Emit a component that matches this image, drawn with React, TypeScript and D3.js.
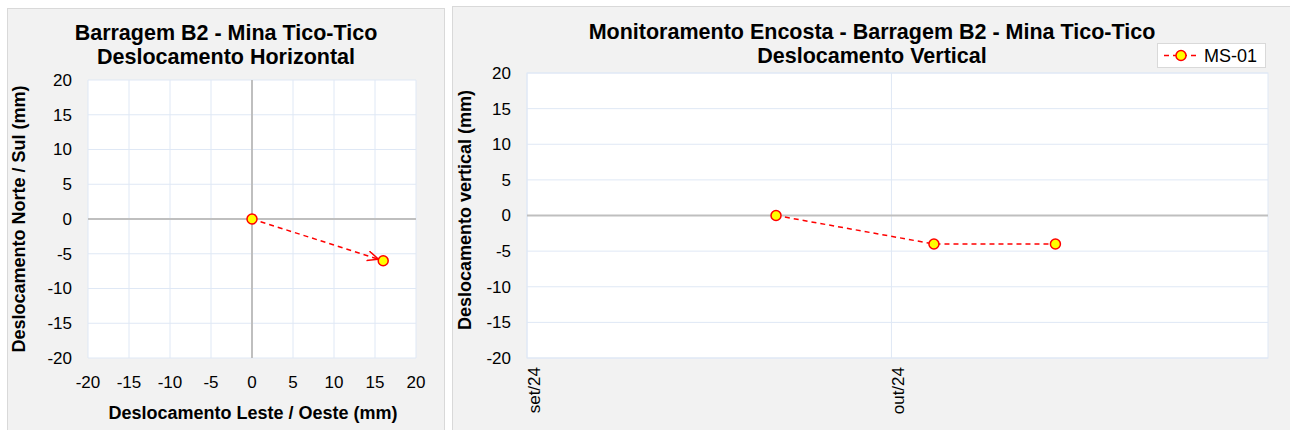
import React from 'react';
import * as d3 from 'd3';

// horizontal displacement (mm)
const eastWest = [0, 16];
const northSouth = [0, -6];

// vertical displacement, MS-01
const readDates = ['2024-09-21 12:00', '2024-10-04 12:00', '2024-10-14 12:00'];
const verticalMs01 = [0, -4, -4];

const axisTicks = [-20, -15, -10, -5, 0, 5, 10, 15, 20];
const monthTicks = ['2024-09-01 00:00', '2024-10-01 00:00'];
const monthLabels = ['set/24', 'out/24'];

const FONT = 'Liberation Sans, Arial, sans-serif';
const GRID = '#dfe8f5';
const ZERO = '#bfbfbf';
const RED = '#ff0000';

const parse = d3.timeParse('%Y-%m-%d %H:%M');

const Marker = ({ x, y }: { x: number; y: number }) => (
  <circle cx={x} cy={y} r={5} fill="#ffff00" stroke={RED} strokeWidth={1.5} />
);

const HorizontalChart = () => {
  const x = d3.scaleLinear().domain([-20, 20]).range([88, 416]);
  const y = d3.scaleLinear().domain([-20, 20]).range([358, 80]);
  const pts = eastWest.map((v, i) => [v, northSouth[i]] as [number, number]);
  const ln = d3.line<[number, number]>().x((d) => x(d[0])).y((d) => y(d[1]));

  return (
    <g>
      <rect x={7.5} y={8.5} width={437} height={430} fill="#f2f2f2" stroke="#d9d9d9" />
      <text x={226} y={40} textAnchor="middle" fontSize={21.5} fontWeight="bold">Barragem B2 - Mina Tico-Tico</text>
      <text x={226} y={64} textAnchor="middle" fontSize={21.5} fontWeight="bold">Deslocamento Horizontal</text>
      <rect x={88} y={80} width={328} height={278} fill="#fff" />
      {axisTicks.map((t) => (
        <g key={'g' + t}>
          <line x1={x(t)} x2={x(t)} y1={80} y2={358} stroke={GRID} />
          <line x1={88} x2={416} y1={y(t)} y2={y(t)} stroke={GRID} />
        </g>
      ))}
      <line x1={x(0)} x2={x(0)} y1={80} y2={358} stroke={ZERO} strokeWidth={2} />
      <line x1={88} x2={416} y1={y(0)} y2={y(0)} stroke={ZERO} strokeWidth={2} />
      {axisTicks.map((t) => (
        <text key={'y' + t} x={72} y={y(t)} dy="0.35em" textAnchor="end" fontSize={17}>{t}</text>
      ))}
      {axisTicks.map((t) => (
        <text key={'x' + t} x={x(t)} y={388} textAnchor="middle" fontSize={17}>{t}</text>
      ))}
      <text x={253} y={419} textAnchor="middle" fontSize={18} fontWeight="bold">Deslocamento Leste / Oeste (mm)</text>
      <text transform={`translate(25,${219}) rotate(-90)`} textAnchor="middle" fontSize={18} fontWeight="bold">Deslocamento Norte / Sul (mm)</text>
      <path d={ln(pts) || ''} fill="none" stroke={RED} strokeWidth={1.5} strokeDasharray="5,4" markerEnd="url(#arrow)" />
      {pts.map((p, i) => <Marker key={i} x={x(p[0])} y={y(p[1])} />)}
    </g>
  );
};

const VerticalChart = () => {
  const x = d3.scaleTime().domain([parse('2024-09-01 00:00')!, parse('2024-11-01 00:00')!]).range([527, 1268]);
  const y = d3.scaleLinear().domain([-20, 20]).range([358, 73]);
  const pts = readDates.map((d, i) => [parse(d)!, verticalMs01[i]] as [Date, number]);
  const ln = d3.line<[Date, number]>().x((d) => x(d[0])).y((d) => y(d[1]));

  return (
    <g>
      <rect x={452.5} y={6.5} width={850} height={430} fill="#f2f2f2" stroke="#d9d9d9" />
      <text x={872} y={39} textAnchor="middle" fontSize={21.5} fontWeight="bold">Monitoramento Encosta - Barragem B2 - Mina Tico-Tico</text>
      <text x={872} y={63} textAnchor="middle" fontSize={21.5} fontWeight="bold">Deslocamento Vertical</text>
      <rect x={527} y={73} width={741} height={285} fill="#fff" stroke={GRID} />
      {axisTicks.map((t) => (
        <line key={'g' + t} x1={527} x2={1268} y1={y(t)} y2={y(t)} stroke={GRID} />
      ))}
      {monthTicks.map((m) => (
        <line key={'v' + m} x1={x(parse(m)!)} x2={x(parse(m)!)} y1={73} y2={358} stroke={GRID} />
      ))}
      <line x1={527} x2={1268} y1={y(0)} y2={y(0)} stroke={ZERO} strokeWidth={2} />
      {axisTicks.map((t) => (
        <text key={'y' + t} x={511} y={y(t)} dy="0.35em" textAnchor="end" fontSize={17}>{t}</text>
      ))}
      {monthTicks.map((m, i) => (
        <text key={'x' + m} transform={`translate(${x(parse(m)!) + 13},367) rotate(-90)`} textAnchor="end" fontSize={17}>{monthLabels[i]}</text>
      ))}
      <text transform={`translate(471,210) rotate(-90)`} textAnchor="middle" fontSize={18} fontWeight="bold">Deslocamento vertical (mm)</text>
      <path d={ln(pts) || ''} fill="none" stroke={RED} strokeWidth={1.5} strokeDasharray="5,4" />
      {pts.map((p, i) => <Marker key={i} x={x(p[0])} y={y(p[1])} />)}
      <g>
        <rect x={1157.5} y={43.5} width={108} height={24} fill="#fff" stroke="#d9d9d9" />
        <line x1={1164} x2={1198} y1={55.5} y2={55.5} stroke={RED} strokeWidth={1.5} strokeDasharray="5,4" />
        <Marker x={1181} y={55.5} />
        <text x={1204} y={55.5} dy="0.35em" fontSize={18}>MS-01</text>
      </g>
    </g>
  );
};

export default function App() {
  return (
    <svg width={1290} height={430} style={{ position: 'absolute', left: 0, top: 0, fontFamily: FONT }}>
      <defs>
        <marker id="arrow" markerUnits="userSpaceOnUse" markerWidth={30} markerHeight={20} refX={16} refY={5} orient="auto" viewBox="0 0 30 20">
          <path d="M0,0 L11,5 L0,10" fill="none" stroke={RED} strokeWidth={1.5} />
        </marker>
      </defs>
      <rect width={1290} height={430} fill="#fff" />
      <HorizontalChart />
      <VerticalChart />
    </svg>
  );
}
